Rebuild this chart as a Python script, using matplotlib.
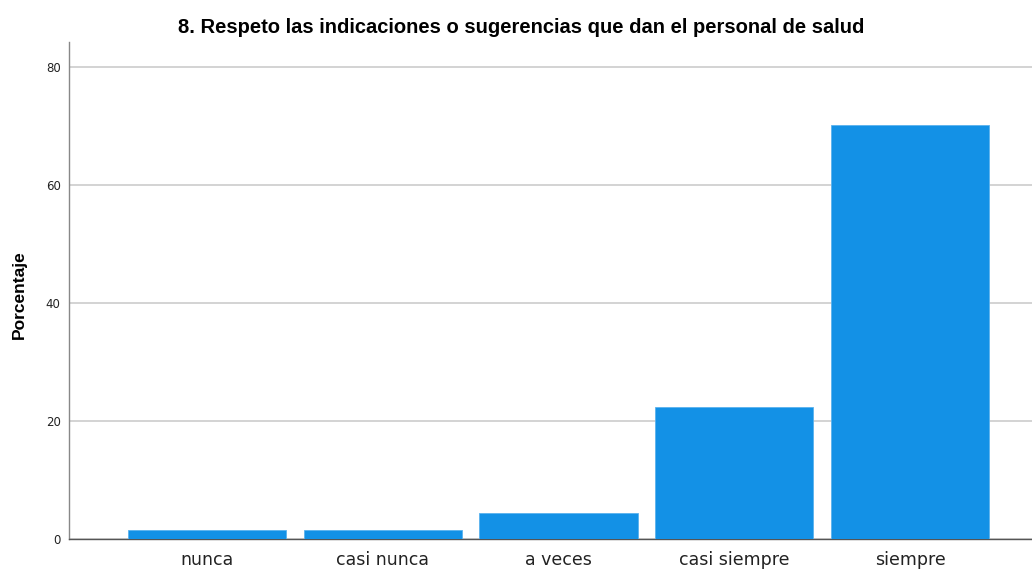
import matplotlib
matplotlib.use("Agg")
import matplotlib.pyplot as plt

categories = ["nunca", "casi nunca", "a veces", "casi siempre", "siempre"]
percentages = [1.49, 1.49, 4.48, 22.39, 70.15]
yticks = [0, 20, 40, 60, 80]

plt.rcParams['font.family'] = ['Liberation Sans', 'DejaVu Sans']

fig = plt.figure(figsize=(10.32, 5.69), dpi=100)
ax = fig.add_axes([69/1032, 30/569, 1 - 69/1032, (539-42)/569])

x = list(range(len(categories)))
ax.bar(x, percentages, width=0.9, color="#1391E6", edgecolor="#5AB2EE", linewidth=0.6, zorder=3)

ax.set_xlim(-0.784, 4.693)
ax.set_ylim(0, 84.2)
ax.set_yticks(yticks)
ax.set_yticklabels([str(v) for v in yticks], fontsize=8.5, family="DejaVu Sans", color="#222222")
ax.set_xticks(x)
ax.set_xticklabels(categories, fontsize=12.5, family="DejaVu Sans", color="#222222")
ax.tick_params(axis='y', length=0, pad=6)
ax.tick_params(axis='x', length=0, pad=8.5)

ax.yaxis.grid(True, color="#cccccc", linewidth=1.2, zorder=0)
ax.set_axisbelow(True)

for s in ["top", "right"]:
    ax.spines[s].set_visible(False)
ax.spines["left"].set_color("#888888")
ax.spines["bottom"].set_color("#555555")
ax.spines["left"].set_linewidth(1.0)
ax.spines["bottom"].set_linewidth(1.0)

fig.text(19/1032, 1 - 295/569, "Porcentaje", rotation=90, ha="center", va="center",
         fontsize=12.5, fontweight="bold")
fig.text(521/1032, 1 - 33/569, "8. Respeto las indicaciones o sugerencias que dan el personal de salud",
         ha="center", va="baseline", fontsize=14.5, fontweight="bold")

fig.savefig("out.png", dpi=100)
